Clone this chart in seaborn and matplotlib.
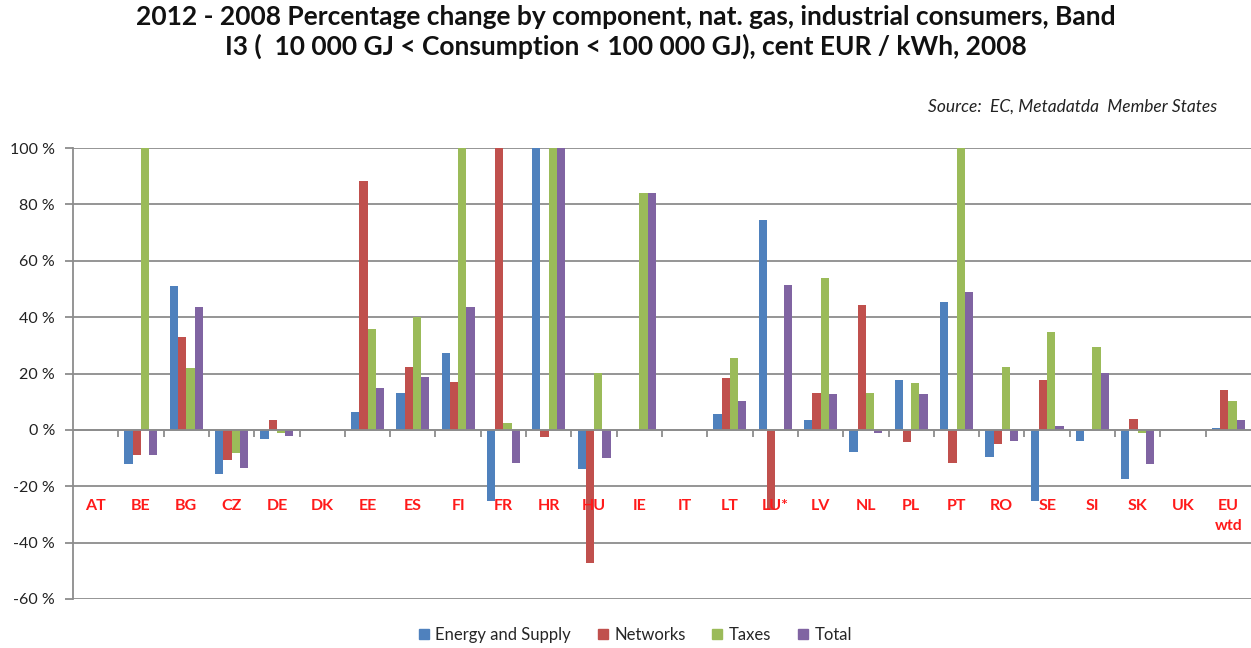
import numpy as np
import pandas as pd
import matplotlib.pyplot as plt
import seaborn as sns

nan = np.nan

# Countries and the four components (values in %, 100 = clipped at top of axis)
countries = ["AT", "BE", "BG", "CZ", "DE", "DK", "EE", "ES", "FI", "FR", "HR", "HU", "IE",
             "IT", "LT", "LU*", "LV", "NL", "PL", "PT", "RO", "SE", "SI", "SK", "UK", "EU\nwtd"]
energy = [nan, -12.2, 51.0, -15.6, -3.3, nan, 6.3, 13.1, 27.2, -25.2, 100, -13.9, 0,
          nan, 5.8, 74.4, 3.5, -7.7, 17.6, 45.4, -9.5, -25.2, -3.8, -17.4, nan, 0.6]
networks = [nan, -8.9, 32.9, -10.6, 3.5, nan, 88.4, 22.2, 17.1, 100, -2.5, -47.3, 0,
            nan, 18.3, -28.5, 13.1, 44.2, -4.4, -11.7, -5.0, 17.6, nan, 4.0, nan, 14.3]
taxes = [nan, 100, 22.1, -8.3, -1.0, nan, 35.7, 40.1, 100, 2.4, 100, 20.1, 83.9,
         nan, 25.5, nan, 53.9, 13.1, 16.6, 100, 22.2, 34.6, 29.5, -1.0, nan, 10.3]
total = [nan, -8.9, 43.6, -13.4, -2.1, nan, 14.8, 18.8, 43.6, -11.7, 100, -10.0, 83.9,
         nan, 10.3, 51.5, 12.7, -1.0, 12.7, 48.8, -3.8, 1.3, 20.3, -12.2, nan, 3.5]
components = ["Energy and Supply", "Networks", "Taxes", "Total"]
colors = ["#4F81BD", "#C0504D", "#9BBB59", "#8064A2"]
yticks = [-60, -40, -20, 0, 20, 40, 60, 80, 100]

rows = []
for comp, vals in zip(components, [energy, networks, taxes, total]):
    for c, v in zip(countries, vals):
        rows.append({"country": c, "component": comp, "value": v})
df = pd.DataFrame(rows)

sns.set_style("white")
plt.rcParams["font.family"] = ["Lato", "DejaVu Sans"]

fig = plt.figure(figsize=(12.51, 6.48), dpi=100)
ax = fig.add_axes([73 / 1251, 1 - 599 / 648, 1 - 73 / 1251, (599 - 148) / 648])

sns.barplot(data=df, x="country", y="value", hue="component", order=countries,
            hue_order=components, palette=colors, width=0.73, errorbar=None,
            saturation=1, linewidth=0, legend=False, ax=ax)

ax.set_ylim(-60, 100)
ax.set_xlim(-0.5, len(countries) - 0.5)
ax.set_yticks(yticks)
ax.set_yticklabels([f"{t} %" for t in yticks], fontsize=11.5, color="#222222")
ax.yaxis.grid(True, color="#8c8c8c", linewidth=1.3)
ax.set_axisbelow(True)
ax.tick_params(axis="y", length=6, color="#8c8c8c", width=1.3, pad=7, left=True)
ax.set_xlabel("")
ax.set_ylabel("")

# zero axis with category separators
for s in ["top", "right"]:
    ax.spines[s].set_visible(False)
ax.spines["left"].set_color("#8c8c8c")
ax.spines["left"].set_linewidth(1.3)
ax.spines["bottom"].set_position(("data", 0))
ax.spines["bottom"].set_color("#8c8c8c")
ax.spines["bottom"].set_linewidth(1.3)
ax.set_xticks(np.arange(len(countries)))
ax.set_xticklabels([])
ax.tick_params(axis="x", which="major", length=0)
ax.set_xticks(np.arange(len(countries) - 1) + 0.5, minor=True)
ax.tick_params(axis="x", which="minor", length=5, width=1.3, color="#8c8c8c",
               direction="out", bottom=True)

for i, c in enumerate(countries):
    multi = "\n" in c
    ax.text(i, -24.6 if multi else -27, c, ha="center", va="top" if multi else "center",
            fontsize=11.5, fontweight="bold", color="#ff1a1a", linespacing=1.5)

fig.text(0.5, 0.992, "2012 - 2008 Percentage change by component, nat. gas, industrial consumers, Band\n"
         "I3 (  10 000 GJ < Consumption < 100 000 GJ), cent EUR / kWh, 2008",
         ha="center", va="top", fontsize=19, fontweight="bold", linespacing=1.2, color="#111111")
fig.text(1217 / 1251, 1 - 107 / 648, "Source:  EC, Metadatda  Member States", ha="right",
         va="center", fontsize=12.5, style="italic", color="#222222")

handles = [plt.Rectangle((0, 0), 1, 1, color=col) for col in colors]
fig.legend(handles, components, loc="center", bbox_to_anchor=(0.508, 1 - 635 / 648), ncol=4,
           frameon=False, fontsize=12, handlelength=0.6, handleheight=0.6,
           handletextpad=0.4, columnspacing=1.6)

fig.savefig("out.png", dpi=100)
